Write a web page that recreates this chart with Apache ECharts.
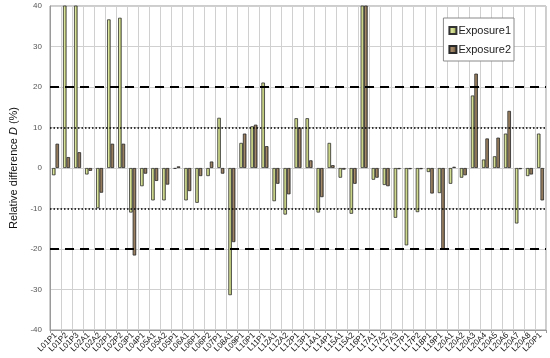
<!DOCTYPE html>
<html>
<head>
<meta charset="utf-8">
<script src="https://cdn.jsdelivr.net/npm/echarts@6/dist/echarts.min.js"></script>
<style>
  html, body { margin: 0; padding: 0; background: #fff; }
  #chart { width: 550px; height: 358px; }
</style>
</head>
<body>
<div id="chart"></div>
<script>
// categories (measurement points)
const categories = ['L01P1', 'L01P2', 'L01P3', 'L02A1', 'L02A2', 'L02P1', 'L02P2', 'L03P1', 'L04P1',
  'L05A1', 'L05A2', 'L05P1', 'L06A1', 'L06P1', 'L06P2', 'L07P1', 'L08A1', 'L09P1', 'L10P1', 'L11P1',
  'L12A1', 'L12A2', 'L12P1', 'L13P1', 'L14A1', 'L14P1', 'L15A1', 'L15A2', 'L16P1', 'L17A1', 'L17A2',
  'L17A3', 'L17P1', 'L17P2', 'L18P1', 'L19P1', 'L20A1', 'L20A2', 'L20A3', 'L20A4', 'L20A5', 'L20A6',
  'L20A7', 'L20A8', 'L20P1']

// relative difference D (%), values above 40 are cut off by the axis
const exposure1 = [-1.8, 55, 48, -1.6, -9.9, 36.7, 37.1, -11.0, -4.5, -8.0, -8.0, -0.2, -8.0, -8.6, -2.0,
  12.4, -31.4, 6.2, 10.3, 21.1, -8.2, -11.5, 12.3, 12.3, -11.0, 6.2, -2.4, -11.3, 50, -2.9, -4.2,
  -12.3, -19.1, -10.9, -1.0, -6.2, -3.9, -2.4, 17.9, 2.1, 2.9, 8.5, -13.7, -2.0, 8.5]
const exposure2 = [6.0, 2.7, 3.9, -0.7, -6.1, 6.0, 6.0, -21.6, -1.4, -3.2, -4.1, 0.4, -5.7, -2.0, 1.6,
  -1.4, -18.3, 8.5, 10.7, 5.4, -3.9, -6.5, 10.0, 1.9, -7.2, 0.7, -0.4, -3.9, 50, -2.4, -4.5,
  -0.3, -0.3, -0.3, -6.3, -20.1, 0.3, -1.8, 23.3, 7.3, 7.5, 14.1, -0.3, -1.6, -8.0]

const yTicks = [-40, -30, -20, -10, 0, 10, 20, 30, 40]
const dashedLevels = [20, -20]
const dottedLevels = [10, -10]

const font = 'Arial, "Liberation Sans", sans-serif'

function barFill(light, mid, dark) {
  return new echarts.graphic.LinearGradient(0, 0, 1, 0, [
    {offset: 0, color: mid},
    {offset: 0.4, color: light},
    {offset: 1, color: dark},
  ])
}

const chart = echarts.init(document.getElementById('chart'))

const refLines = [
  ...dashedLevels.map(v => ({
    yAxis: v,
    lineStyle: {color: '#000', width: 2, type: [9, 6]},
  })),
  ...dottedLevels.map(v => ({
    yAxis: v,
    lineStyle: {color: '#000', width: 1.5, type: [1.5, 2]},
  })),
]

chart.setOption({
  animation: false,
  textStyle: {fontFamily: font},
  grid: {
    left: 42,
    right: 4,
    top: 6,
    bottom: 28,
    show: true,
    borderColor: '#9a9a9a',
    borderWidth: 1,
  },
  legend: {
    data: ['Exposure1', 'Exposure2'],
    orient: 'vertical',
    right: 36,
    top: 18,
    padding: [7, 3, 6, 5],
    itemGap: 8,
    itemWidth: 7,
    itemHeight: 7,
    icon: 'rect',
    backgroundColor: '#fff',
    borderColor: '#8a8a8a',
    borderWidth: 1,
    borderRadius: 0,
    textStyle: {fontSize: 11, color: '#222', fontFamily: font, padding: [0, 0, 0, -3]},
  },
  xAxis: {
    type: 'category',
    data: categories,
    axisLine: {onZero: false, lineStyle: {color: '#9a9a9a'}},
    axisTick: {show: true, interval: 0, length: 3, lineStyle: {color: '#9a9a9a'}},
    axisLabel: {
      interval: 0,
      rotate: 45,
      fontSize: 8,
      color: '#111',
      margin: 4,
      fontFamily: font,
    },
    splitLine: {show: true, interval: 0, lineStyle: {color: '#d0d0d0', width: 1}},
  },
  yAxis: {
    type: 'value',
    min: yTicks[0],
    max: yTicks[yTicks.length - 1],
    interval: 10,
    name: '{a|Relative difference }{b|D}{a| (%)}',
    nameLocation: 'middle',
    nameRotate: 90,
    nameGap: 31,
    nameTextStyle: {
      rich: {
        a: {fontSize: 11, color: '#111', fontFamily: font},
        b: {fontSize: 11, color: '#111', fontStyle: 'italic', fontFamily: font},
      },
    },
    axisLine: {show: true, lineStyle: {color: '#9a9a9a'}},
    axisTick: {show: false},
    axisLabel: {fontSize: 8, color: '#555', margin: 8, fontFamily: font},
    splitLine: {show: true, lineStyle: {color: '#d0d0d0', width: 1}},
  },
  series: [
    {
      name: 'Exposure1',
      type: 'bar',
      data: exposure1,
      barGap: '0%',
      barCategoryGap: '36%',
      itemStyle: {
        color: barFill('#dde6a0', '#bcc868', '#909e3e'),
        borderColor: '#333',
        borderWidth: 0.8,
      },
      markLine: {
        silent: true,
        symbol: 'none',
        label: {show: false},
        data: refLines,
      },
    },
    {
      name: 'Exposure2',
      type: 'bar',
      data: exposure2,
      itemStyle: {
        color: barFill('#a78c6c', '#8a7050', '#5e4a30'),
        borderColor: '#2a2a2a',
        borderWidth: 0.8,
      },
    },
  ],
})
</script>
</body>
</html>
